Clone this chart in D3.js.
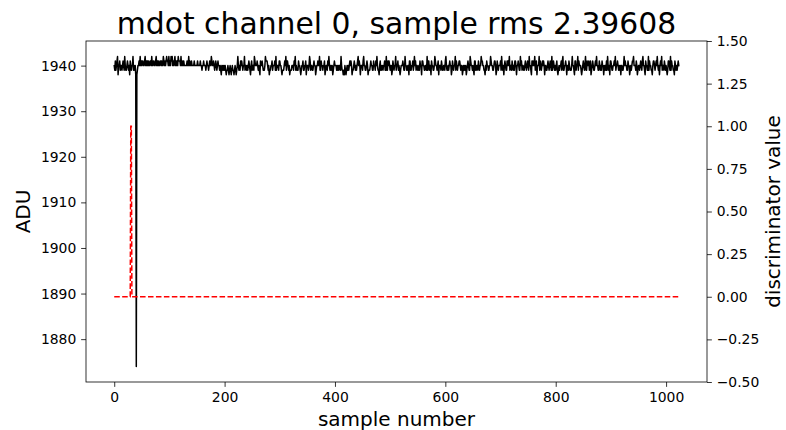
<!DOCTYPE html>
<html>
<head>
<meta charset="utf-8">
<script src="https://cdn.jsdelivr.net/npm/d3@7"></script>
<style>
  body { margin: 0; background: #fff; }
  text { font-family: "DejaVu Sans", sans-serif; fill: #000; }
</style>
</head>
<body>
<svg id="chart" width="786" height="430"></svg>
<script>
const titleText = "mdot channel 0, sample rms 2.39608";
const xLabel = "sample number";
const leftLabel = "ADU";
const rightLabel = "discriminator value";

// ADU waveform, one digit per sample: value = aduBase + digit
const aduBase = 1938;
const aduRows = [
  "213123402231221232142112321203212241212" + "000" + "1223242323" + "3223423232" + "32",
  "2332422332" + "2342323223" + "323224323" + "2343324232" + "4342323423" + "2324333242" + "23232",
  "2222322423" + "2232222322" + "2223222232" + "2122322212" + "3221232243" + "2232123212" + "3221",
  "2102121212" + "1011210121" + "0121101210" + "1242121323" + "2122412212" + "1232102312" + "2143",
  "2223212103" + "2232111243" + "3321201122" + "3122231412" + "2213322101" + "1123241332" + "1201",
  "1122213241" + "2111322101" + "2231122302" + "2212431221" + "1232201223" + "2241132212" + "2301",
  "2213242121" + "2201232221" + "2121221421" + "1010210121" + "2123232011" + "2321212342" + "3202",
  "2213422112" + "3201112322" + "1132213242" + "1102311221" + "2231141132" + "3212201321" + "2241",
  "2231210122" + "2321142211" + "2203311223" + "1242312211" + "2132203322" + "1122141331" + "2203",
  "2211243221" + "2302221321" + "1221342112" + "1232201321" + "2241321223" + "3212201212" + "1201",
  "2321143221" + "2103311221" + "3212243322" + "1102132211" + "2243221123" + "3201321222" + "3142",
  "1202321132" + "3241221321" + "2133202232" + "1142312211" + "2321232142" + "2103232241" + "2302",
  "2241321232" + "3202211232" + "1232141232" + "1212310121" + "2231341122" + "3202213211" + "1242",
  "2103312241" + "3222101232" + "1241132231" + "2301232112" + "3242211321" + "2132202121" + "3142",
  "1203321122" + "3241223212" + "1202211242" + "3221132201" + "2123342221" + "3201221232" + "1342",
  "2103221141" + "3221102332" + "1232421202" + "3241221321" + "2101332141" + "3221103212" + "1232"
];
// the single deep pulse sample
const dipSample = 40;
const dipADU = 1874;

// samples where the discriminator fires (value 1, otherwise 0)
const discriminatorHigh = [30, 31];

const xTicks = [0, 200, 400, 600, 800, 1000];
const aduTicks = [1880, 1890, 1900, 1910, 1920, 1930, 1940];
const discTicks = [-0.5, -0.25, 0, 0.25, 0.5, 0.75, 1, 1.25, 1.5];
const discRange = [-0.5, 1.5];

// ---- build series ----
const adu = Array.from(aduRows.join(""), d => aduBase + Number(d));
adu[dipSample] = dipADU;
const disc = adu.map((_, i) => discriminatorHigh.includes(i) ? 1 : 0);
const n = adu.length;

// ---- layout ----
const W = 786, H = 430;
const plot = { left: 86, right: 707, top: 41, bottom: 382 };
const tickLen = 4.86, tickPad = 4.86;

const svg = d3.select("#chart");
svg.append("rect").attr("width", W).attr("height", H).attr("fill", "#fff");

// matplotlib-like 5% margins
const pad = (lo, hi) => { const m = (hi - lo) * 0.05; return [lo - m, hi + m]; };
const x = d3.scaleLinear().domain(pad(0, n - 1)).range([plot.left, plot.right]);
const [aMin, aMax] = d3.extent(adu);
const yL = d3.scaleLinear().domain(pad(aMin, aMax)).range([plot.bottom, plot.top]);
const yR = d3.scaleLinear().domain(discRange).range([plot.bottom, plot.top]);

svg.append("clipPath").attr("id", "plotClip")
  .append("rect")
  .attr("x", plot.left).attr("y", plot.top)
  .attr("width", plot.right - plot.left).attr("height", plot.bottom - plot.top);

const g = svg.append("g").attr("clip-path", "url(#plotClip)");

// ADU trace
g.append("path")
  .datum(adu)
  .attr("fill", "none")
  .attr("stroke", "#000")
  .attr("stroke-width", 1.5)
  .attr("stroke-linejoin", "round")
  .attr("stroke-linecap", "square")
  .attr("d", d3.line().x((d, i) => x(i)).y(d => yL(d)));

// discriminator trace (twin axis, dashed red)
g.append("path")
  .datum(disc)
  .attr("fill", "none")
  .attr("stroke", "#ff0000")
  .attr("stroke-width", 1.5)
  .attr("stroke-dasharray", "5.55,2.4")
  .attr("d", d3.line().x((d, i) => x(i)).y(d => yR(d)));

// ---- axes ----
function styleAxis(sel) {
  sel.selectAll(".domain").remove();
  sel.selectAll(".tick line").attr("stroke", "#000").attr("stroke-width", 0.8);
  sel.selectAll(".tick text").style("font-size", "13.9px").attr("fill", "#000");
}

svg.append("g")
  .attr("transform", `translate(0,${plot.bottom})`)
  .call(d3.axisBottom(x).tickValues(xTicks).tickFormat(d3.format("d"))
    .tickSize(tickLen).tickPadding(tickPad))
  .call(styleAxis);

svg.append("g")
  .attr("transform", `translate(${plot.left},0)`)
  .call(d3.axisLeft(yL).tickValues(aduTicks).tickFormat(d3.format("d"))
    .tickSize(tickLen).tickPadding(tickPad))
  .call(styleAxis);

svg.append("g")
  .attr("transform", `translate(${plot.right},0)`)
  .call(d3.axisRight(yR).tickValues(discTicks).tickFormat(d3.format(".2f"))
    .tickSize(tickLen).tickPadding(tickPad))
  .call(styleAxis);

// frame
svg.append("rect")
  .attr("x", plot.left).attr("y", plot.top)
  .attr("width", plot.right - plot.left).attr("height", plot.bottom - plot.top)
  .attr("fill", "none").attr("stroke", "#000").attr("stroke-width", 0.8);

// ---- text ----
const cx = (plot.left + plot.right) / 2;
const cy = (plot.top + plot.bottom) / 2;

svg.append("text")
  .attr("x", cx).attr("y", 34)
  .attr("text-anchor", "middle")
  .style("font-size", "29.8px")
  .text(titleText);

svg.append("text")
  .attr("x", cx).attr("y", 426)
  .attr("text-anchor", "middle")
  .style("font-size", "20px")
  .text(xLabel);

svg.append("text")
  .attr("transform", `translate(30,${cy}) rotate(-90)`)
  .attr("text-anchor", "middle")
  .style("font-size", "20px")
  .text(leftLabel);

svg.append("text")
  .attr("transform", `translate(780,${cy}) rotate(-90)`)
  .attr("text-anchor", "middle")
  .style("font-size", "20px")
  .text(rightLabel);
</script>
</body>
</html>
